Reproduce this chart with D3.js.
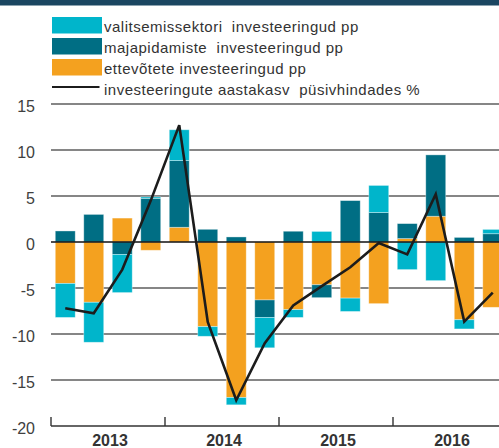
<!DOCTYPE html>
<html>
<head>
<meta charset="utf-8">
<script src="https://cdn.jsdelivr.net/npm/d3@7"></script>
<style>
    body { margin: 0; padding: 0; background: #ffffff; }
    #chart { width: 499px; height: 448px; overflow: hidden; }
    text { font-family: "Liberation Sans", Arial, Helvetica, sans-serif; }
</style>
</head>
<body>
<div id="chart"></div>
<script>
///////////////////////////////////////////////////////////////////////////////////////////////////

// quarters 2013 Q1 ... 2016 Q4
var quarters = ["2013 I", "2013 II", "2013 III", "2013 IV",
                "2014 I", "2014 II", "2014 III", "2014 IV",
                "2015 I", "2015 II", "2015 III", "2015 IV",
                "2016 I", "2016 II", "2016 III", "2016 IV"];
var years = ["2013", "2014", "2015", "2016"];

// contributions, percentage points
var ettevotted     = [-4.5, -6.55, 2.6, -0.9, 1.6, -9.2, -16.9, -6.3, -7.35, -4.65, -6.1, -6.7, 0.37, 2.8, -8.45, -7.1];
var majapidamised  = [1.2, 3.0, -1.35, 4.75, 7.25, 1.38, 0.55, -1.9, 1.17, -1.4, 4.5, 3.2, 1.63, 6.67, 0.5, 0.9];
var valitsemissektor = [-3.7, -4.35, -4.15, 0.15, 3.35, -1.05, -0.8, -3.3, -0.85, 1.15, -1.45, 2.95, -3.0, -4.2, -1.0, 0.47];

// annual growth of investments at constant prices, %
var aastakasv = [-7.2, -7.75, -3.0, 4.5, 12.7, -8.7, -17.2, -11.0, -6.9, -4.8, -2.75, -0.1, -1.35, 5.2, -8.65, -5.5];

var y_ticks = [-20, -15, -10, -5, 0, 5, 10, 15];

var series_names = {
    val: "valitsemissektori  investeeringud pp",
    maj: "majapidamiste  investeeringud pp",
    ett: "ettevõtete investeeringud pp",
    kasv: "investeeringute aastakasv  püsivhindades %"
};

///////////////////////////////////////////////////////////////////////////////////////////////////

function draw_chart(element_id) {

    var svg_width  = 499;
    var svg_height = 448;
    var colors = { ett: "#f4a11f", maj: "#006e84", val: "#00b5cb", kasv: "#1c1c1c" };

    var svg = d3.select("#" + element_id)
      .append("svg")
        .attr("width",  svg_width)
        .attr("height", svg_height);

    // dark band at the very top
    svg.append("rect")
        .attr("x", 0).attr("y", 0)
        .attr("width", svg_width).attr("height", 5.5)
        .style("fill", "#1b4661");

    // table for the stack, order: enterprises, households, government
    var table = quarters.map(function(q, i) {
        return { q: q, ett: ettevotted[i], maj: majapidamised[i], val: valitsemissektor[i] };
    });
    var keys = ["ett", "maj", "val"];
    var stacked = d3.stack()
        .keys(keys)
        .offset(d3.stackOffsetDiverging)(table);

    var x = d3.scaleBand()
        .domain(quarters)
        .range([51, 507])
        .paddingInner(0.3)
        .paddingOuter(0.15);

    var x_year = d3.scaleBand()
        .domain(years)
        .range([51, 507]);

    var y = d3.scaleLinear()
        .domain([-20, 15])
        .range([426, 104]);

    // grid lines (zero line is drawn later, over the bars)
    svg.append("g")
        .selectAll("line")
        .data(y_ticks.filter(function(d) { return d !== 0 && d !== -20; }))
        .join("line")
            .attr("x1", 51)
            .attr("x2", svg_width)
            .attr("y1", function(d) { return y(d); })
            .attr("y2", function(d) { return y(d); })
            .attr("stroke", "#5e5e5e")
            .attr("stroke-width", 1.3);

    // y labels
    svg.append("g")
        .selectAll("text")
        .data(y_ticks)
        .join("text")
            .attr("x", 35)
            .attr("y", function(d) { return y(d) + 8.3; })
            .style("text-anchor", "end")
            .style("font-size", "16px")
            .style("fill", "#404040")
            .text(function(d) { return d; });

    // stacked bars
    svg.append("g")
        .selectAll("g")
        .data(stacked)
        .join("g")
            .style("fill", function(d) { return colors[d.key]; })
        .selectAll("rect")
        .data(function(d) { return d; })
        .join("rect")
            .attr("x", function(d) { return x(d.data.q); })
            .attr("width", x.bandwidth())
            .attr("y", function(d) { return y(Math.max(d[0], d[1])); })
            .attr("height", function(d) { return Math.abs(y(d[0]) - y(d[1])); })
            .attr("stroke", "#ffffff")
            .attr("stroke-opacity", 0.45)
            .attr("stroke-width", 0.8);

    // zero line
    svg.append("line")
        .attr("x1", 51)
        .attr("x2", svg_width)
        .attr("y1", y(0))
        .attr("y2", y(0))
        .attr("stroke", "#111111")
        .attr("stroke-width", 1.4);

    // growth line
    var line = d3.line()
        .x(function(d, i) { return x(quarters[i]) + x.bandwidth() / 2; })
        .y(function(d) { return y(d); });

    svg.append("path")
        .datum(aastakasv)
        .attr("d", line)
        .attr("fill", "none")
        .attr("stroke", colors.kasv)
        .attr("stroke-width", 2.6)
        .attr("stroke-linejoin", "miter");

    // bottom axis with year ticks between years
    svg.append("line")
        .attr("x1", 51)
        .attr("x2", svg_width)
        .attr("y1", y(-20))
        .attr("y2", y(-20))
        .attr("stroke", "#333333")
        .attr("stroke-width", 1.4);

    svg.append("g")
        .selectAll("line")
        .data(years)
        .join("line")
            .attr("x1", function(d) { return x_year(d); })
            .attr("x2", function(d) { return x_year(d); })
            .attr("y1", y(-20))
            .attr("y2", y(-20) - 9)
            .attr("stroke", "#333333")
            .attr("stroke-width", 1.4);

    svg.append("g")
        .selectAll("text")
        .data(years)
        .join("text")
            .attr("x", function(d) { return x_year(d) + x_year.bandwidth() / 2 + 2; })
            .attr("y", 445.5)
            .style("text-anchor", "middle")
            .style("font-size", "16px")
            .style("font-weight", "bold")
            .style("fill", "#333333")
            .text(function(d) { return d; });

    // legend
    var legend_rows = [
        { key: "val", y: 17 },
        { key: "maj", y: 38 },
        { key: "ett", y: 59 }
    ];
    var legend = svg.append("g");
    legend.selectAll("rect")
        .data(legend_rows)
        .join("rect")
            .attr("x", 52)
            .attr("y", function(d) { return d.y; })
            .attr("width", 50)
            .attr("height", 16.5)
            .style("fill", function(d) { return colors[d.key]; });

    legend.append("line")
        .attr("x1", 52)
        .attr("x2", 99.5)
        .attr("y1", 87)
        .attr("y2", 87)
        .attr("stroke", colors.kasv)
        .attr("stroke-width", 2.2);

    legend.selectAll("text")
        .data(["val", "maj", "ett", "kasv"])
        .join("text")
            .attr("x", 104)
            .attr("y", function(d, i) { return 31.5 + i * 21.2; })
            .style("font-size", "15px")
            .style("letter-spacing", "0.5px")
            .style("fill", "#333333")
            .style("white-space", "pre")
            .attr("xml:space", "preserve")
            .text(function(d) { return series_names[d]; });

} // end function

///////////////////////////////////////////////////////////////////////////////////////////////////

draw_chart("chart");
</script>
</body>
</html>
